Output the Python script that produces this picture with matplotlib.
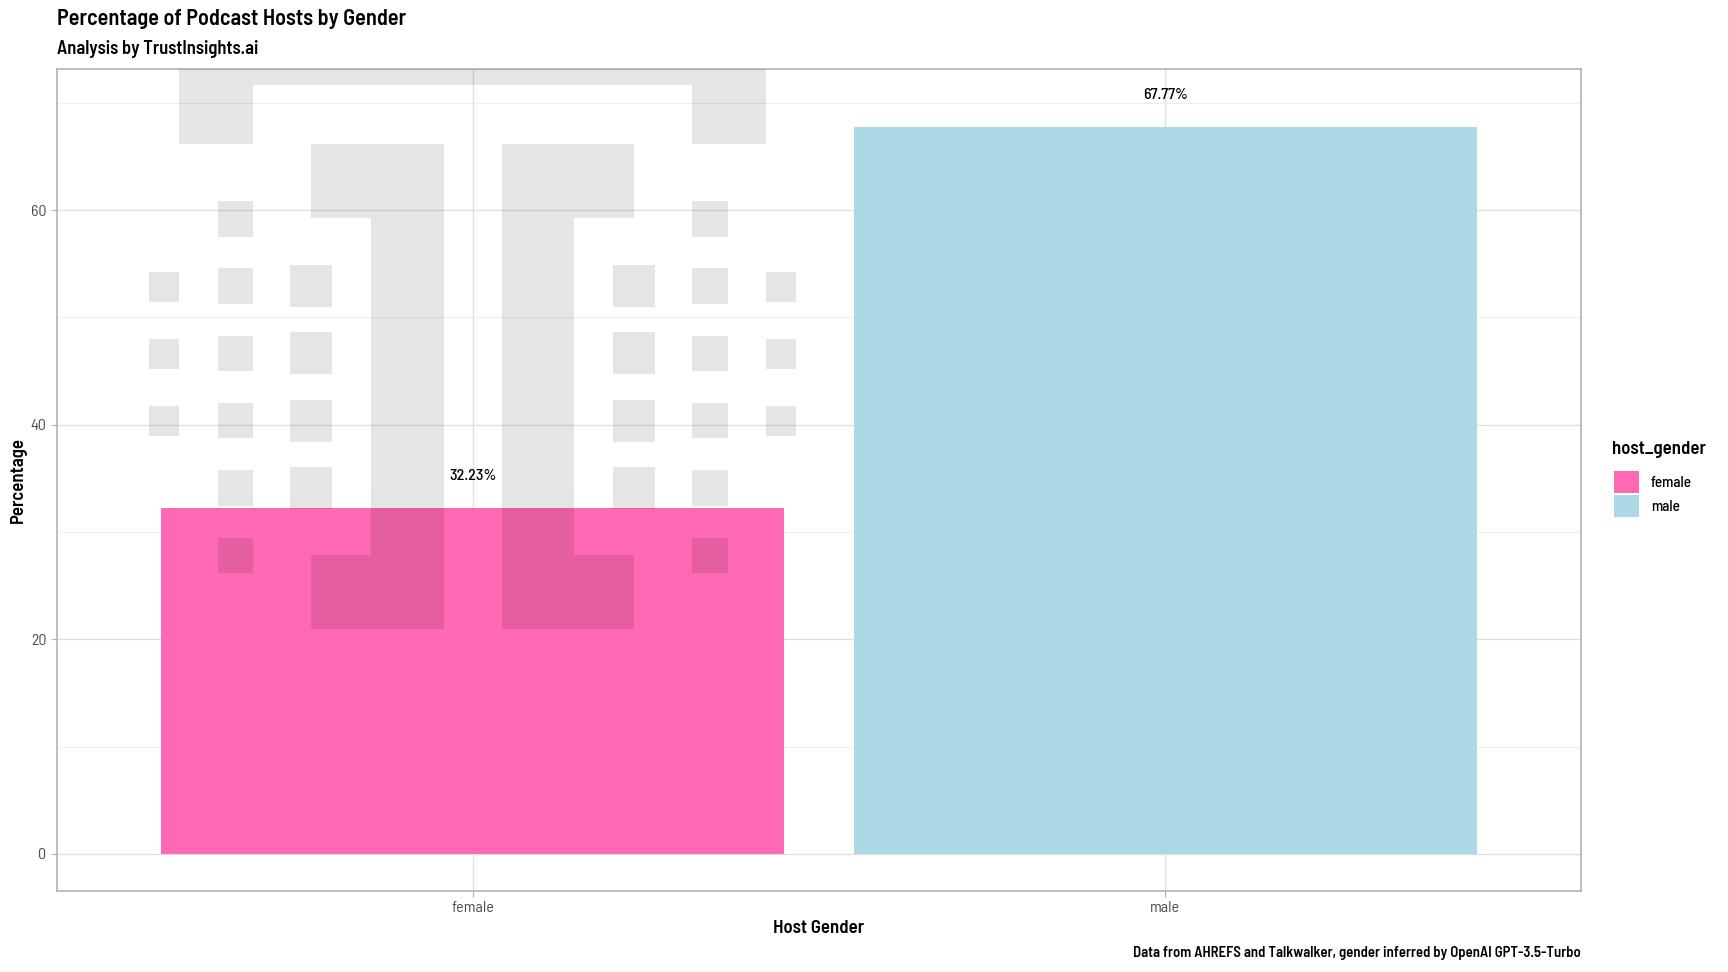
import matplotlib.pyplot as plt
from matplotlib.patches import Patch, Rectangle

# datos
generos = ["female", "male"]
porcentajes = [32.23, 67.77]
colores = ["#FF69B4", "#ADD8E6"]
etiquetas = ["32.23%", "67.77%"]

plt.rcParams['font.family'] = ['Barlow Semi Condensed', 'Barlow Condensed', 'IBM Plex Sans Condensed', 'DejaVu Sans']

fig = plt.figure(figsize=(17.28, 9.72), dpi=100)
ax = fig.add_axes([57 / 1728, 1 - 891 / 972, (1581 - 57) / 1728, (891 - 69) / 972])

x = list(range(1, len(generos) + 1))
ax.bar(x, porcentajes, width=0.9, color=colores, zorder=2)
for xi, p, t in zip(x, porcentajes, etiquetas):
    ax.text(xi, p + 3, t, ha='center', va='center', fontsize=11.5, fontweight='medium', zorder=4)

# marca de agua (logo pixelado), offsets respecto al centro de "female"
logo = [
    (-0.317, 0.317, 71.7, 76), (-0.424, -0.317, 66.17, 76), (0.317, 0.424, 66.17, 76),
    (-0.233, -0.042, 59.28, 66.17), (-0.147, -0.042, 27.84, 59.28), (-0.233, -0.042, 20.96, 27.84),
    (0.042, 0.233, 59.28, 66.17), (0.042, 0.147, 27.84, 59.28), (0.042, 0.233, 20.96, 27.84),
]
for a, b in [(-0.368, -0.317), (0.317, 0.368)]:
    for y0, y1 in [(57.54, 60.82), (51.27, 54.56), (45.0, 48.29), (38.73, 42.02), (32.47, 35.75), (26.2, 29.49)]:
        logo.append((a, b, y0, y1))
for a, b in [(-0.263, -0.203), (0.203, 0.263)]:
    for y0, y1 in [(50.96, 54.87), (44.69, 48.6), (38.43, 42.33), (32.16, 36.06)]:
        logo.append((a, b, y0, y1))
for a, b in [(-0.467, -0.424), (0.424, 0.467)]:
    for y0, y1 in [(51.47, 54.25), (45.21, 47.98), (38.94, 41.71)]:
        logo.append((a, b, y0, y1))
for a, b, y0, y1 in logo:
    ax.add_patch(Rectangle((1 + a, y0), b - a, y1 - y0, facecolor='black',
                           alpha=0.1, edgecolor='none', zorder=3))

ax.set_xlim(0.4, 2.6)
ax.set_ylim(-3.45, 73.15)
ax.set_xticks(x)
ax.set_xticklabels(generos)
ax.set_yticks([0, 20, 40, 60])
ax.set_yticks([10, 30, 50, 70], minor=True)
ax.grid(True, which='major', color='#DEDEDE', linewidth=0.9, zorder=0)
ax.grid(True, which='minor', axis='y', color='#EBEBEB', linewidth=0.6, zorder=0)
ax.set_axisbelow(True)
ax.tick_params(axis='both', which='major', colors='#B3B3B3', labelcolor='#4D4D4D',
               labelsize=11.5, length=4, width=0.8)
ax.tick_params(axis='y', which='minor', length=0)
for s in ax.spines.values():
    s.set_color('#B3B3B3')
    s.set_linewidth(1.2)

ax.set_xlabel('Host Gender', fontsize=13.5, fontweight='semibold', labelpad=3)
ax.set_ylabel('Percentage', fontsize=13.5, fontweight='semibold', labelpad=3)

fig.text(57 / 1728, 1 - 19 / 972, 'Percentage of Podcast Hosts by Gender',
         fontsize=16, fontweight='semibold', va='center', ha='left')
fig.text(57 / 1728, 1 - 49 / 972, 'Analysis by TrustInsights.ai',
         fontsize=13.3, fontweight='semibold', va='center', ha='left')
fig.text(1581 / 1728, 1 - 953 / 972,
         'Data from AHREFS and Talkwalker, gender inferred by OpenAI GPT-3.5-Turbo',
         fontsize=10.6, fontweight='semibold', va='center', ha='right')

# leyenda
fig.text(1612 / 1728, 1 - 449 / 972, 'host_gender', fontsize=13.5,
         fontweight='semibold', va='center', ha='left')
handles = [Patch(facecolor=c, label=g) for g, c in zip(generos, colores)]
leg = fig.legend(handles=handles, loc='center left',
                 bbox_to_anchor=(1608 / 1728, 1 - 494 / 972), frameon=False,
                 fontsize=11, handlelength=1.6, handleheight=1.85,
                 handletextpad=0.8, labelspacing=0.12, borderaxespad=0)
for t in leg.get_texts():
    t.set_fontweight('medium')

fig.savefig('out.png', dpi=100)
